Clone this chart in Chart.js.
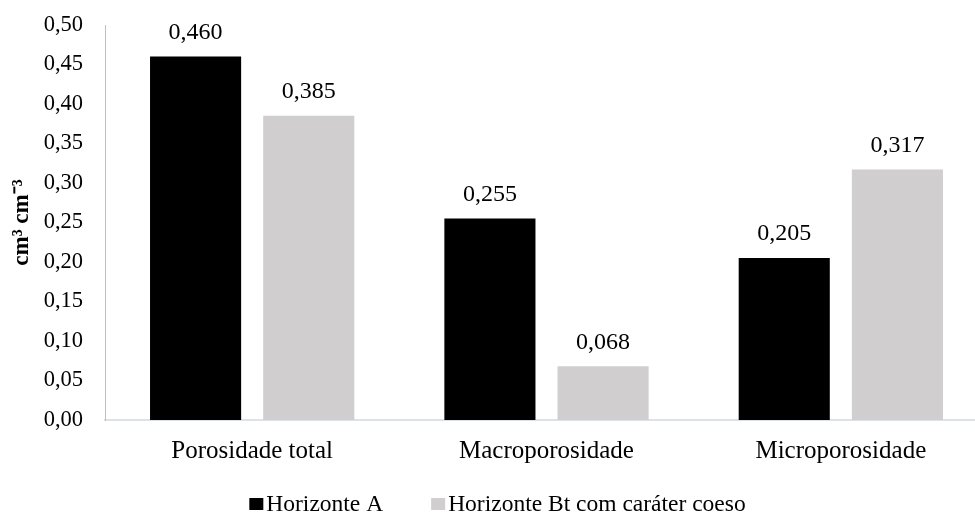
<!DOCTYPE html>
<html>
<head>
<meta charset="utf-8">
<script src="https://cdn.jsdelivr.net/npm/chart.js@4.4.1/dist/chart.umd.min.js"></script>
<style>
  html, body { margin: 0; padding: 0; background: #fff; overflow: hidden; }
  #wrap { width: 995px; height: 512px; }
</style>
</head>
<body>
<div id="wrap"><canvas id="c" width="995" height="512"></canvas></div>
<script>
// Soil porosity by horizon (cm³ cm⁻³)
const categories = ['Porosidade total', 'Macroporosidade', 'Microporosidade'];
const seriesNames = ['Horizonte A', 'Horizonte Bt com caráter coeso'];
const horizonteA = [0.460, 0.255, 0.205];
const horizonteBt = [0.385, 0.068, 0.317];
const yTicks = [0, 0.05, 0.10, 0.15, 0.20, 0.25, 0.30, 0.35, 0.40, 0.45, 0.50];

const FONT = '"Liberation Serif", "Times New Roman", serif';
const colors = ['#000000', '#d0cecf'];

const fmt = (v, d) => v.toFixed(d).replace('.', ',');

// Value labels above each bar
const valueLabels = {
  id: 'valueLabels',
  afterDatasetsDraw(chart) {
    const ctx = chart.ctx;
    ctx.save();
    ctx.font = '24px ' + FONT;
    ctx.fillStyle = '#000';
    ctx.textAlign = 'center';
    ctx.textBaseline = 'middle';
    chart.data.datasets.forEach((ds, i) => {
      chart.getDatasetMeta(i).data.forEach((bar, j) => {
        ctx.fillText(fmt(ds.data[j], 3), bar.x, bar.y - 24);
      });
    });
    ctx.restore();
  }
};

// Legend row under the axis
const bottomLegend = {
  id: 'bottomLegend',
  afterDraw(chart) {
    const ctx = chart.ctx;
    ctx.save();
    ctx.font = '23.5px ' + FONT;
    ctx.textBaseline = 'middle';
    const bw = 14, bh = 12, gapText = 3, gapItem = 48, y = 504;
    const items = chart.data.datasets.map(ds => ({ text: ds.label, color: ds.backgroundColor }));
    const widths = items.map(it => bw + gapText + ctx.measureText(it.text).width);
    const total = widths.reduce((a, b) => a + b, 0) + gapItem * (items.length - 1);
    let x = chart.width / 2 - total / 2;
    items.forEach((it, k) => {
      ctx.fillStyle = it.color;
      ctx.fillRect(x, y - bh / 2, bw, bh);
      ctx.fillStyle = '#000';
      ctx.textAlign = 'left';
      ctx.fillText(it.text, x + bw + gapText, y + 1);
      x += widths[k] + gapItem;
    });
    ctx.restore();
  }
};

new Chart(document.getElementById('c'), {
  type: 'bar',
  data: {
    labels: categories,
    datasets: [
      { label: seriesNames[0], data: horizonteA, backgroundColor: colors[0] },
      { label: seriesNames[1], data: horizonteBt, backgroundColor: colors[1] }
    ]
  },
  options: {
    responsive: false,
    animation: false,
    devicePixelRatio: 1,
    layout: { padding: { top: 25, right: 7, bottom: 0, left: 0 } },
    datasets: { bar: { categoryPercentage: 0.769, barPercentage: 0.805 } },
    plugins: {
      legend: { display: false },
      tooltip: { enabled: false }
    },
    scales: {
      x: {
        grid: { display: false, drawTicks: false },
        border: { display: true, color: '#dde1e8', width: 2 },
        ticks: { font: { family: FONT, size: 25 }, color: '#000', padding: 16, maxRotation: 0 },
        afterFit(s) { s.height = 92; s.paddingTop = 0; s.paddingBottom = 0; }
      },
      y: {
        min: 0,
        max: 0.5,
        afterBuildTicks(s) { s.ticks = yTicks.map(v => ({ value: v })); },
        grid: { display: false, drawTicks: false },
        border: { display: true, color: '#bfbfbf', width: 1 },
        ticks: {
          font: { family: FONT, size: 22.5 },
          color: '#000',
          padding: 22,
          callback: v => fmt(v, 2)
        },
        title: {
          display: true,
          text: 'cm³ cm⁻³',
          font: { family: FONT, size: 23, weight: 'bold' },
          color: '#000',
          padding: { top: 8, bottom: 0 }
        },
        afterFit(s) { s.width = 105; s.paddingTop = 0; s.paddingBottom = 0; }
      }
    }
  },
  plugins: [valueLabels, bottomLegend]
});
</script>
</body>
</html>
